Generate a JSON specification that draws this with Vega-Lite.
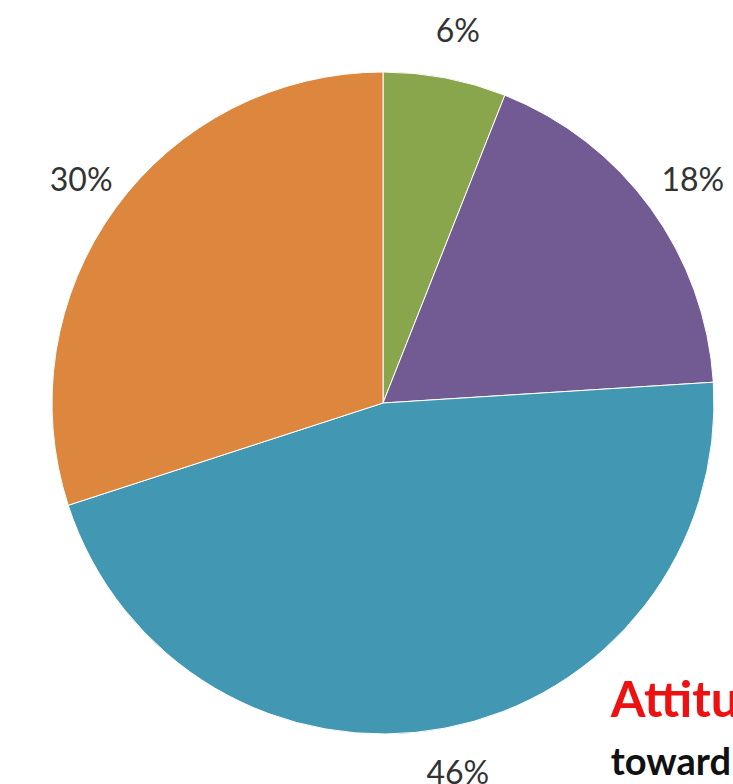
{
  "$schema": "https://vega.github.io/schema/vega-lite/v6.json",
  "autosize": "none",
  "padding": {"left": 52, "top": 72, "right": 681, "bottom": 712},
  "background": "white",
  "config": {"view": {"stroke": null}},
  "title": {
    "text": "e than the lecture experience f",
    "font": "Lato",
    "fontSize": 44,
    "fontWeight": "bold",
    "color": "#111111",
    "anchor": "middle",
    "baseline": "alphabetic",
    "offset": 57,
    "dx": -21,
    "dy": 55
  },
  "vconcat": [
    {
      "width": 662,
      "height": 662,
      "title": {
        "text": "Attitu",
        "subtitle": "toward",
        "orient": "bottom",
        "anchor": "start",
        "font": "Lato",
        "fontSize": 50,
        "fontWeight": "bold",
        "color": "#ee1111",
        "subtitleFont": "Lato",
        "subtitleFontSize": 38,
        "subtitleFontWeight": "bold",
        "subtitleColor": "#111111",
        "subtitlePadding": 18,
        "dx": 561,
        "dy": -117
      },
      "data": {
        "values": [
          {"category": "A", "value": 6, "order": 1, "label": "6%"},
          {"category": "B", "value": 18, "order": 2, "label": "18%"},
          {"category": "C", "value": 46, "order": 3, "label": "46%"},
          {"category": "D", "value": 30, "order": 4, "label": "30%"}
        ]
      },
      "encoding": {
        "theta": {"field": "value", "type": "quantitative", "stack": true},
        "order": {"field": "order", "type": "quantitative"}
      },
      "layer": [
        {
          "mark": {"type": "arc", "outerRadius": 331, "stroke": "white", "strokeWidth": 1},
          "encoding": {
            "color": {
              "field": "category",
              "type": "nominal",
              "scale": {"domain": ["A", "B", "C", "D"], "range": ["#8aa64c", "#725a92", "#4298b3", "#dd863e"]},
              "legend": null
            }
          }
        },
        {
          "mark": {"type": "text", "radius": 378, "dx": 4, "font": "Lato", "fontSize": 32, "color": "#333333"},
          "encoding": {"text": {"field": "label", "type": "nominal"}}
        }
      ]
    }
  ]
}
